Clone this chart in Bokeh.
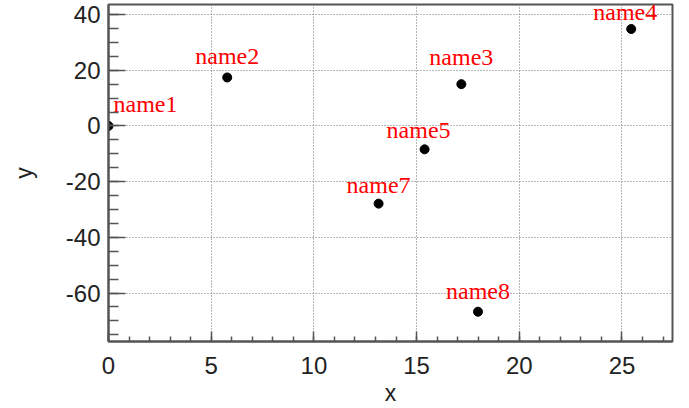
from bokeh.plotting import figure
from bokeh.models import ColumnDataSource, Range1d, SingleIntervalTicker, PrintfTickFormatter
from bokeh.core.properties import value
from bokeh.embed import file_html
from bokeh.resources import INLINE

# data
names = ["name1", "name2", "name3", "name4", "name5", "name7", "name8"]
xs = [0.0, 5.78, 17.18, 25.45, 15.39, 13.15, 17.99]
ys = [0.0, 17.4, 15.0, 34.8, -8.4, -27.9, -66.7]
x_lo, x_hi = 0.0, 27.46
y_lo, y_hi = -77.4, 43.6
x_title = "x"
y_title = "y"

# label placement styles (pixel offsets of each name relative to its point)
aligns = ["left", "center", "center", "center", "center", "center", "center"]
label_dx = [5, 0, 0, -6, -6, 0, 0]
label_dy = [-22, -21, -27, -17, -19, -19, -21]

src = ColumnDataSource(dict(x=xs, y=ys, name=names, align=aligns,
                            dx=label_dx, dy=label_dy))

p = figure(width=689, height=408, output_backend="svg", toolbar_location=None,
           x_range=Range1d(x_lo, x_hi), y_range=Range1d(y_lo, y_hi),
           min_border_left=108, min_border_right=17, min_border_top=4,
           min_border_bottom=67)

p.background_fill_color = "white"
p.border_fill_color = "white"
p.outline_line_color = "#555555"
p.outline_line_width = 2

p.xaxis.ticker = SingleIntervalTicker(interval=5, num_minor_ticks=5)
p.yaxis.ticker = SingleIntervalTicker(interval=20, num_minor_ticks=4)
p.xaxis.formatter = PrintfTickFormatter(format="%d")
p.yaxis.formatter = PrintfTickFormatter(format="%d")

for ax in (p.xaxis[0], p.yaxis[0]):
    ax.axis_line_color = "#555555"
    ax.axis_line_width = 2
    ax.major_tick_line_color = "#555555"
    ax.minor_tick_line_color = "#555555"
    ax.major_tick_line_width = 1.5
    ax.minor_tick_line_width = 1.5
    ax.major_tick_out = 0
    ax.minor_tick_out = 0
    ax.major_label_text_font = "Liberation Sans"
    ax.major_label_text_font_size = "24px"
    ax.major_label_text_color = "#222222"
    ax.axis_label_text_font = "Liberation Sans"
    ax.axis_label_text_font_size = "23px"
    ax.axis_label_text_font_style = "normal"
    ax.axis_label_text_color = "#222222"

p.xaxis.major_tick_in = 10
p.xaxis.minor_tick_in = 5
p.yaxis.major_tick_in = 17
p.yaxis.minor_tick_in = 10
p.xaxis.major_label_standoff = 15
p.yaxis.major_label_standoff = 8
p.xaxis.axis_label = x_title
p.yaxis.axis_label = y_title
p.xaxis.axis_label_standoff = 3
p.yaxis.axis_label_standoff = 26

p.grid.grid_line_color = "#707070"
p.grid.grid_line_dash = "1 2"
p.grid.grid_line_width = 1

p.scatter("x", "y", source=src, size=9, color="black")
p.text("x", "y", text="name", source=src, text_align="align", x_offset="dx",
       y_offset="dy", text_baseline="alphabetic", text_color="red",
       text_font=value("Liberation Serif"), text_font_size="24px")

open("out.html", "w").write(file_html(p, INLINE))
